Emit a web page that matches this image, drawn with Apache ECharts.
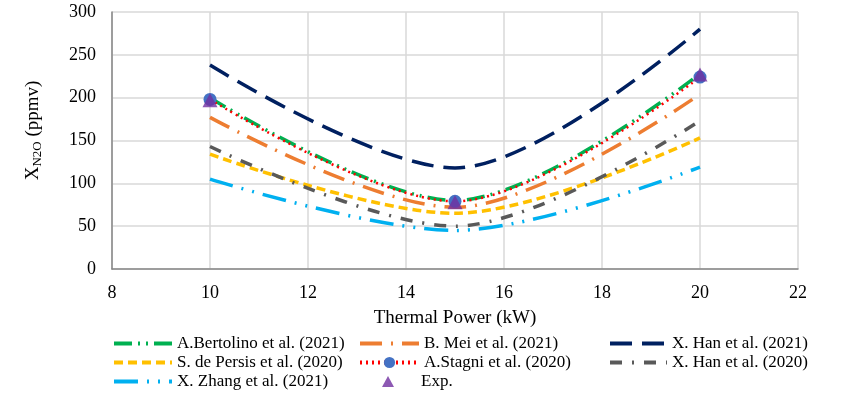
<!DOCTYPE html>
<html><head><meta charset="utf-8">
<script src="https://cdn.jsdelivr.net/npm/echarts@6/dist/echarts.min.js"></script>
<style>html,body{margin:0;padding:0;background:#fff}#c{width:846px;height:393px}</style>
</head><body><div id="c"></div>
<script>
var xValues = [10, 15, 20];
var bertolino = [200, 80, 228];
var mei = [177, 72, 204];
var hanA = [238, 118, 280];
var persis = [134, 65, 153];
var stagni = [198, 79, 224];
var hanB = [143, 50, 173];
var zhang = [105, 45, 119];
var exp = [197, 78, 227];
var xTicks = [8, 22, 2];
var yTicks = [0, 300, 50];

function pts(v){ return xValues.map(function(x,i){ return [x, v[i]]; }); }
var font = 'Liberation Serif';
function line(name, vals, color, dash, width, extra){
  var s = {
    name: name, type: 'line', data: pts(vals), smooth: 0.33,
    symbol: 'none', showSymbol: false,
    lineStyle: {color: color, width: width, type: dash, cap: 'butt'},
    itemStyle: {color: color}, z: 2
  };
  if (extra) for (var k in extra) s[k] = extra[k];
  return s;
}
var series = [
  line('A.Bertolino et al. (2021)', bertolino, '#00B050', [18,6,2,6,2,6], 3.5),
  line('B. Mei et al. (2021)', mei, '#ED7D31', [22,9,2,9], 3.5),
  line('X. Han et al. (2021)', hanA, '#002060', [22,10], 3.5),
  line('S. de Persis et al. (2020)', persis, '#FFC000', [9,5], 3.5),
  line('A.Stagni et al. (2020)', stagni, '#FF0000', [2,4], 2.5, {
    symbol: 'circle', showSymbol: true, symbolSize: 13, itemStyle: {color: '#4472C4'}
  }),
  line('X. Han et al. (2020)', hanB, '#595959', [12,10,2,10], 3.5),
  line('X. Zhang et al. (2021)', zhang, '#00B0F0', [24,9,2,9,2,9], 3.5),
  {name: 'Exp.', type: 'scatter', data: pts(exp), symbol: 'triangle', symbolSize: [15,14],
   itemStyle: {color: '#7030A0'}, z: 5}
];
function item(n){
  if (n === 'A.Stagni et al. (2020)') return {name: n};
  return {name: n, itemStyle: {opacity: 0}};
}
function legend(left, top, w, names){
  return {
    left: left, top: top, orient: 'vertical', itemGap: 2, itemWidth: w, itemHeight: 14, padding: 0,
    textStyle: {fontFamily: font, fontSize: 17, color: '#000'},
    lineStyle: {width: 4},
    data: names.map(item), selectedMode: false
  };
}
var expLegend = {
  left: 382, top: 373, orient: 'vertical', itemWidth: 12, itemHeight: 11, padding: 0,
  textStyle: {fontFamily: font, fontSize: 17, color: '#000', padding: [0,0,0,22]},
  data: ['Exp.'], selectedMode: false
};
var chart = echarts.init(document.getElementById('c'));
chart.setOption({
  animation: false,
  grid: {left: 112, right: 48, top: 12, bottom: 124},
  xAxis: {
    type: 'value', min: xTicks[0], max: xTicks[1], interval: xTicks[2],
    name: 'Thermal Power (kW)', nameLocation: 'middle', nameGap: 40,
    nameTextStyle: {fontFamily: font, fontSize: 19, color: '#000'},
    axisLine: {lineStyle: {color: '#868686', width: 1.5}},
    axisTick: {show: false},
    axisLabel: {fontFamily: font, fontSize: 18, color: '#000', margin: 15},
    splitLine: {show: true, lineStyle: {color: '#D9D9D9', width: 1.5}}
  },
  yAxis: {
    type: 'value', min: yTicks[0], max: yTicks[1], interval: yTicks[2],
    name: '{m|X}{s|N2O}{m| (ppmv)}', nameLocation: 'middle', nameGap: 68,
    nameTextStyle: {fontFamily: font, fontSize: 19, color: '#000', padding: [0,0,0,20],
      rich: {m: {fontFamily: font, fontSize: 19, color: '#000'},
             s: {fontFamily: font, fontSize: 13, color: '#000', verticalAlign: 'bottom', padding: [9,0,0,0]}}},
    axisLine: {show: true, lineStyle: {color: '#868686', width: 1.5}},
    axisTick: {show: false},
    axisLabel: {fontFamily: font, fontSize: 18, color: '#000', margin: 16},
    splitLine: {show: true, lineStyle: {color: '#D9D9D9', width: 1.5}}
  },
  legend: [
    legend(112, 335, 58, ['A.Bertolino et al. (2021)', 'S. de Persis et al. (2020)', 'X. Zhang et al. (2021)']),
    legend(358, 335, 59, ['B. Mei et al. (2021)', 'A.Stagni et al. (2020)']),
    legend(608, 335, 57, ['X. Han et al. (2021)', 'X. Han et al. (2020)']),
    expLegend
  ],
  series: series
});
</script></body></html>
